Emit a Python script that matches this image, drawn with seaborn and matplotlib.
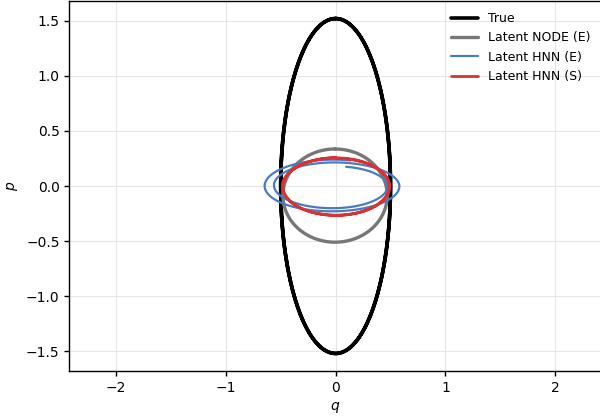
import numpy as np
import pandas as pd
import matplotlib
matplotlib.use("Agg")
import matplotlib.pyplot as plt
import seaborn as sns

# ---- data (trajectory extents in phase space) ----
series_names = ["True", "Latent NODE (E)", "Latent HNN (E)", "Latent HNN (S)"]
series_colors = ["#000000", "#777777", "#4a7bbf", "#d93232"]
series_widths = [2.6, 2.4, 1.6, 2.0]

# centres (q, p)
center_q = [0.0, -0.005, -0.02, 0.005]
center_p = [0.0, -0.087, 0.0, -0.005]
# semi-axis in q at successive half-turns (right, left, right, left, ...)
q_amp_keys = [[0.50, 0.50, 0.50, 0.50, 0.50],
              [0.475, 0.475, 0.475],
              [0.47, 0.51, 0.55, 0.60, 0.625, 0.63],
              [0.48, 0.485, 0.485, 0.49, 0.49]]
# semi-axis in p at successive half-turns
p_amp_keys = [[1.52, 1.52, 1.52, 1.52, 1.52],
              [0.423, 0.423, 0.423],
              [0.18, 0.20, 0.21, 0.22, 0.235, 0.24],
              [0.255, 0.26, 0.26, 0.262, 0.262]]
start_phase = [0.0, 0.0, 0.25, 0.0]
turns = [2.0, 1.0, 2.0, 2.0]

rows = []
for i, name in enumerate(series_names):
    th = np.linspace(start_phase[i], start_phase[i] + 2 * np.pi * turns[i], 600)
    kq = np.linspace(th[0], th[-1], len(q_amp_keys[i]))
    aq = np.interp(th, kq, q_amp_keys[i])
    ap = np.interp(th, kq, p_amp_keys[i])
    q = center_q[i] + aq * np.sin(th)
    p = center_p[i] + ap * np.cos(th)
    rows.append(pd.DataFrame({"q": q, "p": p, "model": name, "t": np.arange(len(th))}))
df = pd.concat(rows, ignore_index=True)

sns.set_style("whitegrid")
plt.rcParams["font.family"] = ["DejaVu Sans"]
plt.rcParams["text.color"] = "black"
plt.rcParams["axes.labelcolor"] = "black"
plt.rcParams["xtick.color"] = "black"
plt.rcParams["ytick.color"] = "black"

fig = plt.figure(figsize=(6.0, 4.17), dpi=100)
ax = fig.add_axes([69.3 / 600, 46 / 417, (601.9 - 69.3) / 600, 370 / 417])

for i, name in enumerate(series_names):
    sub = df[df["model"] == name]
    sns.lineplot(data=sub, x="q", y="p", sort=False, estimator=None, ax=ax,
                 color=series_colors[i], lw=series_widths[i], label=name)

ax.set_xlim(-2.425, 2.425)
ax.set_ylim(-1.679, 1.679)
ax.set_xticks([-2, -1, 0, 1, 2])
ax.set_yticks([-1.5, -1.0, -0.5, 0.0, 0.5, 1.0, 1.5])
ax.set_xlabel("$q$", fontsize=10)
ax.set_ylabel("$p$", fontsize=10)
ax.tick_params(axis="both", labelsize=10, length=3.5, width=1, color="black",
               labelcolor="black", direction="out", bottom=True, left=True)
ax.grid(True, color="#e6e6e6", lw=0.8)
for s in ax.spines.values():
    s.set_color("black")
    s.set_linewidth(1.0)

leg = ax.legend(loc="upper right", fontsize=9, frameon=False, handlelength=2.2)
for t in leg.get_texts():
    t.set_color("black")

fig.savefig("out.png", dpi=100)
